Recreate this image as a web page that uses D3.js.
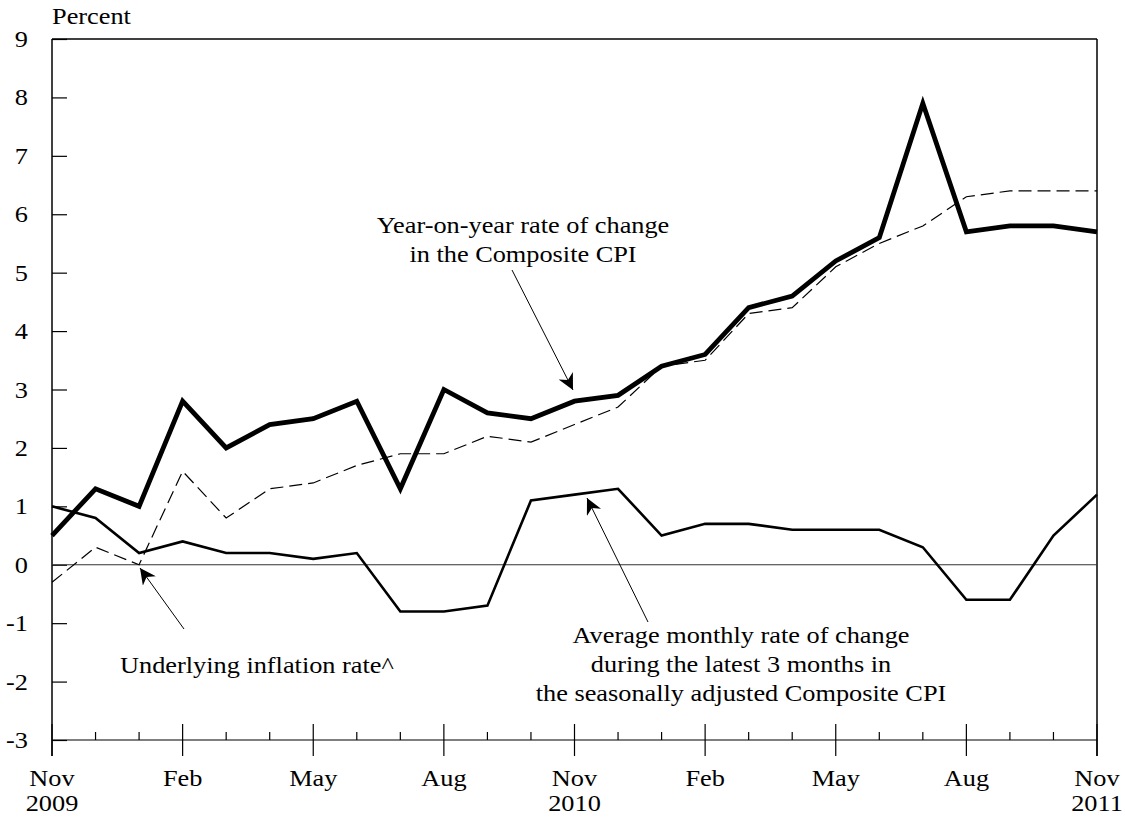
<!DOCTYPE html>
<html><head><meta charset="utf-8">
<script src="https://cdn.jsdelivr.net/npm/d3@7"></script>
<style>body{margin:0;background:#fff}svg{display:block}text{font-family:"Liberation Serif","Times New Roman",serif;fill:#000}</style>
</head><body><svg id="c" width="1125" height="818"></svg>
<script>
const months = ["Nov 2009","Dec 2009","Jan 2010","Feb 2010","Mar 2010","Apr 2010","May 2010","Jun 2010","Jul 2010","Aug 2010","Sep 2010","Oct 2010","Nov 2010","Dec 2010","Jan 2011","Feb 2011","Mar 2011","Apr 2011","May 2011","Jun 2011","Jul 2011","Aug 2011","Sep 2011","Oct 2011","Nov 2011"];
const compositeYoY = [0.5,1.3,1.0,2.8,2.0,2.4,2.5,2.8,1.3,3.0,2.6,2.5,2.8,2.9,3.4,3.6,4.4,4.6,5.2,5.6,7.9,5.7,5.8,5.8,5.7];
const underlying = [-0.3,0.3,0.0,1.6,0.8,1.3,1.4,1.7,1.9,1.9,2.2,2.1,2.4,2.7,3.4,3.5,4.3,4.4,5.1,5.5,5.8,6.3,6.4,6.4,6.4];
const avg3m = [1.0,0.8,0.2,0.4,0.2,0.2,0.1,0.2,-0.8,-0.8,-0.7,1.1,1.2,1.3,0.5,0.7,0.7,0.6,0.6,0.6,0.3,-0.6,-0.6,0.5,1.2];
const yTicks = [-3,-2,-1,0,1,2,3,4,5,6,7,8,9];
const majorLabels = {0:["Nov","2009"],3:["Feb",""],6:["May",""],9:["Aug",""],12:["Nov","2010"],15:["Feb",""],18:["May",""],21:["Aug",""],24:["Nov","2011"]};

const svg = d3.select("#c");
const L=52, R=1097, T=39, B=740;
const FS=22.5, SX=1.17;
const x = d3.scaleLinear().domain([0, months.length-1]).range([L,R]);
const y = d3.scaleLinear().domain([-3,9]).range([B,T]);

function txt(str,tx,ty,anchor){
  return svg.append("text").attr("transform",`translate(${tx},${ty}) scale(${SX},1)`)
    .attr("text-anchor",anchor||"start").attr("font-size",FS).text(str);
}

// frame
svg.append("line").attr("x1",L).attr("x2",R).attr("y1",T).attr("y2",T).attr("stroke","#000").attr("stroke-width",1.5);
svg.append("line").attr("x1",R).attr("x2",R).attr("y1",T).attr("y2",756).attr("stroke","#000").attr("stroke-width",1.5);
svg.append("line").attr("x1",L).attr("x2",L).attr("y1",T).attr("y2",756).attr("stroke","#000").attr("stroke-width",1.5);
svg.append("line").attr("x1",L).attr("x2",R).attr("y1",B).attr("y2",B).attr("stroke","#000").attr("stroke-width",1.2);

// y ticks
const yAxis = d3.axisRight(y).tickValues(yTicks).tickSize(15).tickFormat("");
const gy = svg.append("g").attr("transform",`translate(${L},0)`).call(yAxis);
gy.select(".domain").remove();
gy.selectAll("line").attr("stroke","#000").attr("stroke-width",1.2);
yTicks.forEach(d=>txt(String(d),28,y(d)+8,"end"));

// zero line
svg.append("line").attr("x1",L).attr("x2",R).attr("y1",y(0)).attr("y2",y(0)).attr("stroke","#333").attr("stroke-width",1);

// x ticks
const idx = d3.range(months.length);
svg.selectAll(".xt").data(idx).enter().append("line")
  .attr("x1",d=>x(d)).attr("x2",d=>x(d))
  .attr("y1",d=> d%3===0 ? B-16 : B-8)
  .attr("y2",d=> d%3===0 ? B+16 : B)
  .attr("stroke","#000").attr("stroke-width",1.2);
Object.entries(majorLabels).forEach(([i,[m,yr]])=>{
  txt(m,x(+i),786,"middle");
  if(yr) txt(yr,x(+i),811,"middle");
});

txt("Percent",52,24);

const line = d3.line().x((d,i)=>x(i)).y(d=>y(d));
svg.append("path").datum(underlying).attr("d",line).attr("fill","none").attr("stroke","#000").attr("stroke-width",1.2).attr("stroke-dasharray","13,6");
svg.append("path").datum(avg3m).attr("d",line).attr("fill","none").attr("stroke","#000").attr("stroke-width",2.6);
svg.append("path").datum(compositeYoY).attr("d",line).attr("fill","none").attr("stroke","#000").attr("stroke-width",4.8);

// annotations
const defs = svg.append("defs");
defs.append("marker").attr("id","ah").attr("viewBox","0 0 10 10").attr("refX",10).attr("refY",5)
  .attr("markerWidth",16).attr("markerHeight",16).attr("markerUnits","userSpaceOnUse").attr("orient","auto")
  .append("path").attr("d","M0,0 L10,5 L0,10 L3,5 Z").attr("fill","#000");
function arrow(x1,y1,x2,y2){
  svg.append("line").attr("x1",x1).attr("y1",y1).attr("x2",x2).attr("y2",y2).attr("stroke","#000").attr("stroke-width",1).attr("marker-end","url(#ah)");
}
function label(lines,cx,y0,dy){
  lines.forEach((t,i)=>txt(t,cx,y0+i*dy,"middle"));
}
label(["Year-on-year rate of change","in the Composite CPI"],523,233,29);
arrow(512,270,573,390);
label(["Average monthly rate of change","during the latest 3 months in","the seasonally adjusted Composite CPI"],741,643,29);
arrow(648,622,587,498);
txt("Underlying inflation rate^",120,673);
arrow(184,629,140,568);
</script></body></html>
